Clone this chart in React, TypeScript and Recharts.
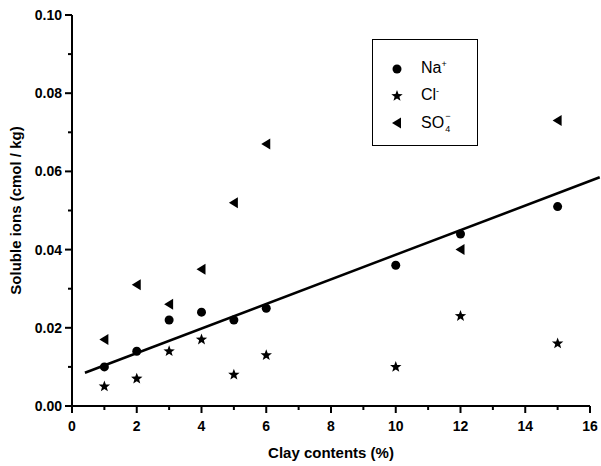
import React from "react";
import {
  ScatterChart,
  Scatter,
  XAxis,
  YAxis,
  ReferenceLine,
} from "recharts";

const naData = [
  { x: 1, y: 0.01 },
  { x: 2, y: 0.014 },
  { x: 3, y: 0.022 },
  { x: 4, y: 0.024 },
  { x: 5, y: 0.022 },
  { x: 6, y: 0.025 },
  { x: 10, y: 0.036 },
  { x: 12, y: 0.044 },
  { x: 15, y: 0.051 },
];

const clData = [
  { x: 1, y: 0.005 },
  { x: 2, y: 0.007 },
  { x: 3, y: 0.014 },
  { x: 4, y: 0.017 },
  { x: 5, y: 0.008 },
  { x: 6, y: 0.013 },
  { x: 10, y: 0.01 },
  { x: 12, y: 0.023 },
  { x: 15, y: 0.016 },
];

const so4Data = [
  { x: 1, y: 0.017 },
  { x: 2, y: 0.031 },
  { x: 3, y: 0.026 },
  { x: 4, y: 0.035 },
  { x: 5, y: 0.052 },
  { x: 6, y: 0.067 },
  { x: 12, y: 0.04 },
  { x: 15, y: 0.073 },
];

// linear fit through the Na+ points
const fitLine = [
  { x: 0.4, y: 0.0085 },
  { x: 16.3, y: 0.0585 },
];

const xTicks = [0, 1, 2, 3, 4, 5, 6, 7, 8, 9, 10, 11, 12, 13, 14, 15, 16];
const yTicks = [0, 0.01, 0.02, 0.03, 0.04, 0.05, 0.06, 0.07, 0.08, 0.09, 0.1];

const FONT = "'Liberation Sans', Arial, sans-serif";

const Dot = ({ cx, cy }: any) => <circle cx={cx} cy={cy} r={4.5} fill="#000" />;

const Star = ({ cx, cy }: any) => {
  const pts: string[] = [];
  for (let i = 0; i < 10; i++) {
    const r = i % 2 === 0 ? 6 : 2.5;
    const a = -Math.PI / 2 + (i * Math.PI) / 5;
    pts.push(`${cx + r * Math.cos(a)},${cy + r * Math.sin(a)}`);
  }
  return <polygon points={pts.join(" ")} fill="#000" />;
};

const LeftTri = ({ cx, cy }: any) => (
  <polygon
    points={`${cx - 5},${cy} ${cx + 4},${cy - 5.5} ${cx + 4},${cy + 5.5}`}
    fill="#000"
  />
);

const XTick = ({ x, y, payload }: any) => {
  const major = payload.value % 2 === 0;
  return (
    <g>
      <line x1={x} y1={y} x2={x} y2={y + (major ? 7 : 4)} stroke="#000" strokeWidth={2} />
      {major && (
        <text x={x} y={y + 25} textAnchor="middle" fontSize={14} fontWeight="bold" fontFamily={FONT}>
          {payload.value}
        </text>
      )}
    </g>
  );
};

const YTick = ({ x, y, payload }: any) => {
  const major = Math.round(payload.value * 100) % 2 === 0;
  return (
    <g>
      <line x1={x} y1={y} x2={x - (major ? 7 : 4)} y2={y} stroke="#000" strokeWidth={2} />
      {major && (
        <text x={x - 10} y={y + 5} textAnchor="end" fontSize={14} fontWeight="bold" fontFamily={FONT}>
          {payload.value.toFixed(2)}
        </text>
      )}
    </g>
  );
};

const legendRow = { display: "flex", alignItems: "center", height: 27 } as const;
const symCell = { width: 48, display: "flex", justifyContent: "center" } as const;

const LegendBox = () => (
  <div
    style={{
      position: "absolute",
      left: 372,
      top: 39,
      border: "1.5px solid #000",
      width: 106,
      height: 107,
      boxSizing: "border-box",
      paddingTop: 15,
      fontFamily: FONT,
      fontSize: 16,
      background: "#fff",
    }}
  >
    <div style={legendRow}>
      <div style={symCell}>
        <svg width={14} height={14}><Dot cx={7} cy={7} /></svg>
      </div>
      <span>
        Na<sup style={{ fontSize: 9 }}>+</sup>
      </span>
    </div>
    <div style={legendRow}>
      <div style={symCell}>
        <svg width={14} height={14}><Star cx={7} cy={7} /></svg>
      </div>
      <span>
        Cl<sup style={{ fontSize: 9 }}>-</sup>
      </span>
    </div>
    <div style={legendRow}>
      <div style={symCell}>
        <svg width={14} height={14}><LeftTri cx={7} cy={7} /></svg>
      </div>
      <span style={{ display: "inline-flex", alignItems: "center" }}>
        SO
        <span style={{ display: "inline-flex", flexDirection: "column", fontSize: 9, lineHeight: "9px", marginLeft: 1 }}>
          <span>−</span>
          <span style={{ marginTop: 4 }}>4</span>
        </span>
      </span>
    </div>
  </div>
);

export default function App() {
  return (
    <div style={{ position: "absolute", left: 0, top: 0, width: 601, height: 466 }}>
      <ScatterChart
        width={601}
        height={466}
        margin={{ top: 15, right: 11, bottom: 0, left: 0 }}
      >
        <XAxis
          type="number"
          dataKey="x"
          domain={[0, 16]}
          ticks={xTicks}
          interval={0}
          tick={<XTick />}
          tickSize={0}
          tickMargin={0}
          tickLine={false}
          axisLine={{ stroke: "#000", strokeWidth: 2 }}
          height={60}
          label={{
            value: "Clay contents (%)",
            position: "insideBottom",
            offset: 8,
            style: { fontSize: 15, fontWeight: "bold", fontFamily: FONT, fill: "#000" },
          }}
        />
        <YAxis
          type="number"
          dataKey="y"
          domain={[0, 0.1]}
          ticks={yTicks}
          interval={0}
          tick={<YTick />}
          tickSize={0}
          tickMargin={0}
          tickLine={false}
          axisLine={{ stroke: "#000", strokeWidth: 2 }}
          width={72}
          label={{
            value: "Soluble ions (cmol / kg)",
            angle: -90,
            position: "insideLeft",
            offset: 16,
            style: { fontSize: 15, fontWeight: "bold", fontFamily: FONT, fill: "#000", textAnchor: "middle" },
          }}
        />
        <ReferenceLine
          segment={fitLine}
          stroke="#000"
          strokeWidth={2.5}
          ifOverflow="visible"
        />
        <Scatter name="Na+" data={naData} shape={<Dot />} isAnimationActive={false} />
        <Scatter name="Cl-" data={clData} shape={<Star />} isAnimationActive={false} />
        <Scatter name="SO4-" data={so4Data} shape={<LeftTri />} isAnimationActive={false} />
      </ScatterChart>
      <LegendBox />
    </div>
  );
}
